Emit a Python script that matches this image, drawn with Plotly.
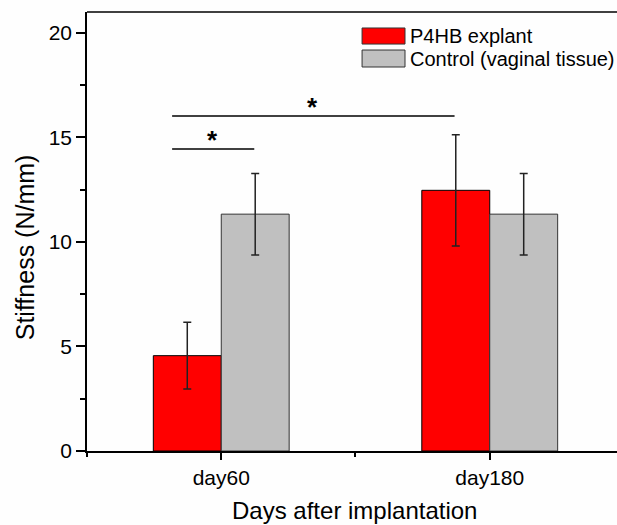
import plotly.graph_objects as go

# ---- data ----
categories = ["day60", "day180"]
cat_pos = [0, 1]
p4hb_values = [4.56, 12.47]
p4hb_err = [1.60, 2.66]
control_values = [11.33, 11.33]
control_err = [1.95, 1.95]
series_names = ["P4HB explant", "Control (vaginal tissue)"]
y_ticks = [0, 5, 10, 15, 20]

# significance brackets (data coords)
sig_x0 = [-0.183, -0.183]
sig_x1 = [0.869, 0.123]
sig_y = [16.03, 14.45]
sig_star_x = [0.34, -0.034]
sig_labels = ["*", "*"]

FONT = "Liberation Sans, Arial, sans-serif"
BG = "#fefefe"
bar_w = 0.253

fig = go.Figure()
fig.add_trace(go.Bar(
    x=cat_pos, y=p4hb_values, name=series_names[0],
    width=bar_w, offset=-bar_w,
    marker=dict(color="#FF0000", line=dict(color="black", width=1)),
    error_y=dict(type="data", array=p4hb_err, visible=True,
                 color="#222222", thickness=1.5, width=4),
))
fig.add_trace(go.Bar(
    x=cat_pos, y=control_values, name=series_names[1],
    width=bar_w, offset=0,
    marker=dict(color="#C0C0C0", line=dict(color="#333333", width=1)),
    error_y=dict(type="data", array=control_err, visible=True,
                 color="#222222", thickness=1.5, width=4),
))

shapes = []
# top frame line
shapes.append(dict(type="line", xref="paper", yref="paper", x0=0, x1=1, y0=1, y1=1,
                   line=dict(color="black", width=1.5)))
for x0, x1, y in zip(sig_x0, sig_x1, sig_y):
    shapes.append(dict(type="line", xref="x", yref="y", x0=x0, x1=x1, y0=y, y1=y,
                       line=dict(color="black", width=1.5)))

annotations = []
for xs, y, t in zip(sig_star_x, sig_y, sig_labels):
    annotations.append(dict(x=xs, y=y, xref="x", yref="y", text="<b>" + t + "</b>", showarrow=False,
                            yanchor="bottom", yshift=-8,
                            font=dict(family=FONT, size=26, color="black")))

# manual legend (paper coords)
legend_colors = ["#FF0000", "#C0C0C0"]
legend_rows = [(0.9636, 0.927, 0.945), (0.9134, 0.8747, 0.894)]
for name, col, (ytop, ybot, ymid) in zip(series_names, legend_colors, legend_rows):
    shapes.append(dict(type="rect", xref="paper", yref="paper", x0=0.519, x1=0.600,
                       y0=ybot, y1=ytop, fillcolor=col, line=dict(color="#333333", width=1)))
    annotations.append(dict(x=0.6057, y=ymid, xref="paper", yref="paper", text=name,
                            showarrow=False, xanchor="left", yanchor="middle",
                            font=dict(family=FONT, size=20, color="black")))

# axis titles
annotations.append(dict(x=-0.117, y=0.464, xref="paper", yref="paper", text="Stiffness (N/mm)",
                        showarrow=False, textangle=-90, xanchor="center", yanchor="middle",
                        font=dict(family=FONT, size=25, color="black")))
annotations.append(dict(x=0.505, y=-0.1686, xref="paper", yref="paper", text="Days after implantation",
                        showarrow=False, xanchor="center", yanchor="bottom", borderpad=0,
                        font=dict(family=FONT, size=24, color="black")))

fig.update_layout(
    width=617, height=525,
    margin=dict(l=87, r=0, t=12, b=74),
    paper_bgcolor=BG, plot_bgcolor=BG,
    barmode="overlay", showlegend=False,
    shapes=shapes, annotations=annotations,
    font=dict(family=FONT, size=21, color="black"),
)
fig.update_xaxes(
    range=[-0.5, 1.474], tickvals=cat_pos, ticktext=categories,
    showline=True, linecolor="black", linewidth=1.5,
    ticks="outside", ticklen=7, tickwidth=1.5, tickcolor="black",
    minor=dict(tick0=-0.5, dtick=0.5, ticks="outside", ticklen=4, tickwidth=1.5, tickcolor="black"),
    showgrid=False, zeroline=False,
    tickfont=dict(family=FONT, size=21, color="black"),
)
fig.update_yaxes(
    range=[0, 21], tickvals=y_ticks,
    showline=True, linecolor="black", linewidth=1.5,
    ticks="outside", ticklen=9, tickwidth=1.5, tickcolor="black",
    minor=dict(dtick=2.5, ticks="outside", ticklen=5, tickwidth=1.5, tickcolor="black"),
    showgrid=False, zeroline=False,
    tickfont=dict(family=FONT, size=21, color="black"),
)

fig.write_html("out.html")
